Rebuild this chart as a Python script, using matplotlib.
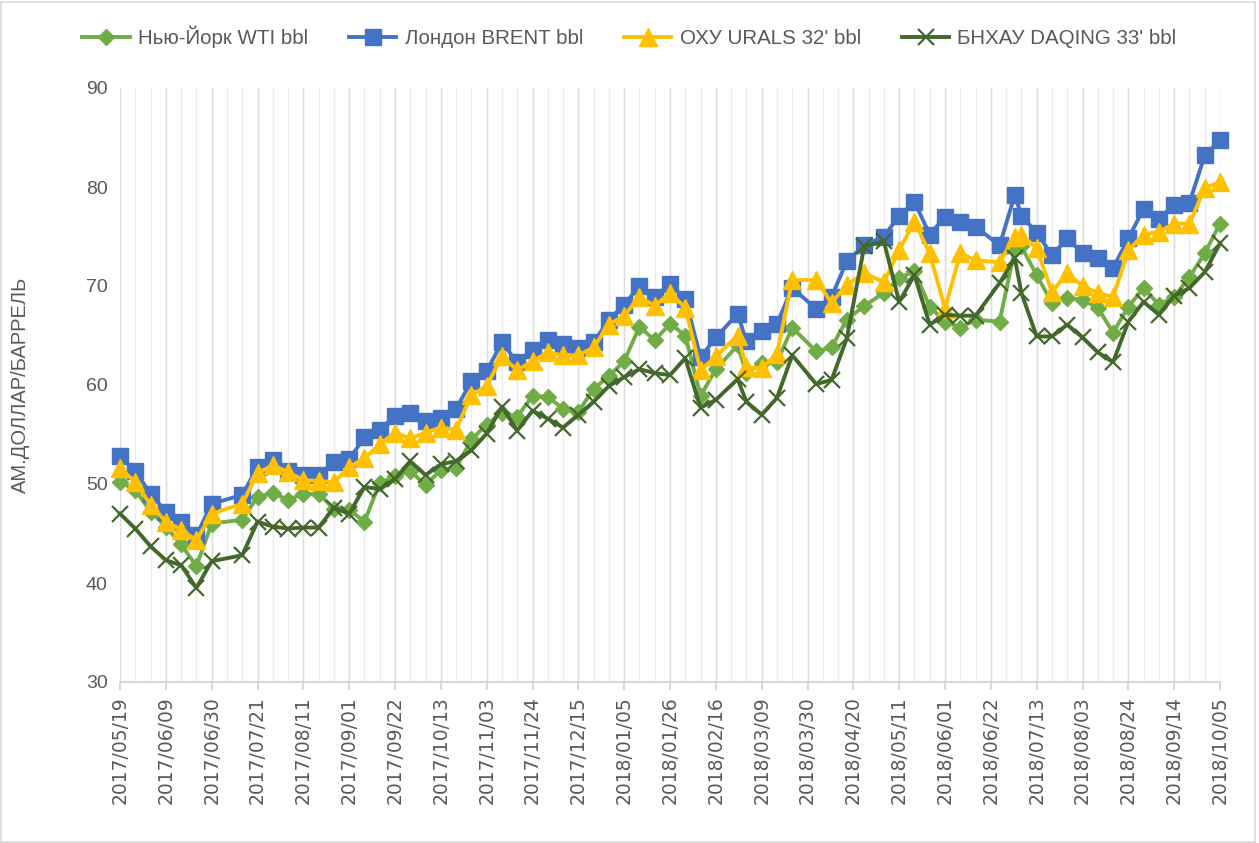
import pandas as pd
import matplotlib
matplotlib.use('Agg')
import matplotlib.pyplot as plt
import matplotlib.dates as mdates
from matplotlib.patches import Rectangle
from matplotlib.lines import Line2D

plt.rcParams['font.family'] = ['Liberation Sans', 'DejaVu Sans']

# даты наблюдений (неравномерные местами)
dates = ['2017-05-19', '2017-05-26', '2017-06-02', '2017-06-09', '2017-06-16', '2017-06-23', '2017-06-30',
         '2017-07-14', '2017-07-21', '2017-07-28', '2017-08-04', '2017-08-11', '2017-08-18', '2017-08-25',
         '2017-09-01', '2017-09-08', '2017-09-15', '2017-09-22', '2017-09-29', '2017-10-06', '2017-10-13',
         '2017-10-20', '2017-10-27', '2017-11-03', '2017-11-10', '2017-11-17', '2017-11-24', '2017-12-01',
         '2017-12-08', '2017-12-15', '2017-12-22', '2017-12-29', '2018-01-05', '2018-01-12', '2018-01-19',
         '2018-01-26', '2018-02-02', '2018-02-09', '2018-02-16', '2018-02-26', '2018-03-02', '2018-03-09',
         '2018-03-16', '2018-03-23', '2018-04-03', '2018-04-10', '2018-04-17', '2018-04-25', '2018-05-04',
         '2018-05-11', '2018-05-18', '2018-05-25', '2018-06-01', '2018-06-08', '2018-06-15', '2018-06-26',
         '2018-07-03', '2018-07-06', '2018-07-13', '2018-07-20', '2018-07-27', '2018-08-03', '2018-08-10',
         '2018-08-17', '2018-08-24', '2018-08-31', '2018-09-07', '2018-09-14', '2018-09-21', '2018-09-28',
         '2018-10-05']

wti = [50.2, 49.4, 47.2, 45.7, 43.9, 41.7, 46.0,
       46.4, 48.7, 49.1, 48.4, 49.0, 49.0, 47.5,
       47.4, 46.2, 50.1, 50.8, 51.3, 49.9, 51.4,
       51.6, 54.5, 56.0, 57.2, 56.8, 58.9, 58.8,
       57.6, 57.3, 59.6, 60.9, 62.4, 65.9, 64.5,
       66.2, 65.0, 58.9, 61.6, 64.0, 61.2, 62.2,
       62.3, 65.8, 63.4, 63.8, 66.6, 68.0, 69.3,
       70.8, 71.5, 67.9, 66.4, 65.8, 66.6, 66.4,
       73.7, 74.0, 71.1, 68.3, 68.8, 68.6, 67.8,
       65.3, 67.9, 69.8, 68.1, 68.9, 70.9, 73.3, 76.3]

brent = [52.8, 51.3, 49.0, 47.2, 46.2, 44.8, 48.0,
         48.9, 51.7, 52.4, 51.3, 50.9, 50.9, 52.2,
         52.5, 54.7, 55.5, 56.9, 57.2, 56.4, 56.7,
         57.6, 60.4, 61.4, 64.3, 62.3, 63.5, 64.5,
         64.1, 63.7, 64.3, 66.6, 68.1, 70.0, 68.9,
         70.2, 68.7, 62.8, 64.8, 67.2, 64.4, 65.5,
         66.2, 69.8, 67.7, 68.9, 72.5, 74.1, 75.0,
         77.1, 78.5, 75.2, 77.0, 76.5, 76.0, 74.1,
         79.2, 77.1, 75.4, 73.1, 74.8, 73.3, 72.8,
         71.8, 74.8, 77.8, 76.8, 78.2, 78.4, 83.2, 84.7]

urals = [51.6, 50.2, 47.9, 46.2, 45.4, 44.3, 47.0,
         48.0, 51.1, 51.9, 51.2, 50.4, 50.3, 50.2,
         51.7, 52.6, 54.0, 55.2, 54.6, 55.2, 55.7,
         55.5, 59.0, 59.9, 62.9, 61.5, 62.4, 63.3,
         63.0, 63.0, 63.8, 66.1, 67.0, 68.9, 68.0,
         69.3, 67.8, 61.5, 62.9, 65.0, 61.8, 61.7,
         63.1, 70.6, 70.6, 68.3, 70.1, 71.3, 70.4,
         73.6, 76.5, 73.3, 67.7, 73.3, 72.6, 72.4,
         75.0, 75.2, 73.8, 69.4, 71.3, 70.0, 69.3,
         68.9, 73.6, 75.2, 75.5, 76.3, 76.3, 79.9, 80.5]

daqing = [47.0, 45.5, 43.7, 42.3, 41.8, 39.5, 42.2,
          42.8, 46.2, 45.7, 45.5, 45.6, 45.6, 47.6,
          47.0, 49.7, 49.5, 50.5, 52.3, 50.9, 52.0,
          52.3, 53.4, 55.1, 57.8, 55.4, 57.4, 56.6,
          55.7, 57.0, 58.3, 59.9, 60.8, 61.6, 61.2,
          61.0, 62.7, 57.7, 58.5, 60.6, 58.3, 57.0,
          58.7, 63.0, 60.1, 60.5, 64.7, 74.0, 74.5,
          68.4, 71.1, 66.1, 67.1, 67.0, 67.0, 70.3,
          72.8, 69.3, 64.9, 64.9, 66.1, 64.8, 63.3,
          62.3, 66.4, 68.4, 67.1, 69.0, 69.8, 71.4, 74.3]

labels = ['Нью-Йорк WTI bbl', 'Лондон BRENT bbl', "ОХУ URALS 32' bbl", "БНХАУ DAQING 33' bbl"]
colors = ['#70ad47', '#4472c4', '#ffc000', '#43682b']

x = pd.to_datetime(dates)
start, end = pd.Timestamp('2017-05-19'), pd.Timestamp('2018-10-05')

fig = plt.figure(figsize=(12.59, 8.43), dpi=100)
ax = fig.add_axes([120 / 1259, 1 - 682 / 843, 1100 / 1259, 594 / 843])

# недельная сетка
for d in pd.date_range(start, end, freq='7D'):
    ax.axvline(d, color='#ececec', lw=1.0, zorder=0)
for d in pd.date_range(start, end, freq='21D'):
    ax.axvline(d, color='#dddddd', lw=1.0, zorder=0)

style = dict(lw=2.8, clip_on=False)
ax.plot(x, wti, color=colors[0], marker='D', ms=7.8, zorder=3, **style)
ax.plot(x, brent, color=colors[1], marker='s', ms=11, zorder=4, **style)
ax.plot(x, urals, color=colors[2], marker='^', ms=12.5, zorder=5, **style)
ax.plot(x, daqing, color=colors[3], marker='x', ms=11, mew=1.6, zorder=6, **style)

ax.set_xlim(start, end)
ax.set_ylim(30, 90)
ax.set_yticks(range(30, 91, 10))
ax.set_xticks(pd.date_range(start, end, freq='21D'))
ax.xaxis.set_major_formatter(mdates.DateFormatter('%Y/%m/%d'))

for s in ['top', 'right', 'left']:
    ax.spines[s].set_visible(False)
ax.spines['bottom'].set_color('#d0d0d0')
ax.spines['bottom'].set_linewidth(1.2)
ax.tick_params(axis='y', length=0, pad=9, labelsize=14, labelcolor='#595959')
ax.tick_params(axis='x', length=6, width=1.2, color='#d0d0d0', pad=4, labelsize=13.5,
               labelcolor='#595959', labelrotation=90)
for t in ax.get_xticklabels():
    t.set_family('DejaVu Sans')

ax.set_ylabel('АМ.ДОЛЛАР/БАРРЕЛЬ', fontsize=14.5, color='#595959')
ax.yaxis.set_label_coords(-0.082, 0.5)

handles = [
    Line2D([], [], color=colors[0], lw=2.8, marker='D', ms=7.8),
    Line2D([], [], color=colors[1], lw=2.8, marker='s', ms=11),
    Line2D([], [], color=colors[2], lw=2.8, marker='^', ms=12.5),
    Line2D([], [], color=colors[3], lw=2.8, marker='x', ms=11, mew=1.6),
]
fig.legend(handles, labels, loc='center', bbox_to_anchor=(0.5, 1 - 37 / 843), ncol=4, frameon=False,
           fontsize=14.8, handlelength=2.3, columnspacing=2.0, handletextpad=0.4,
           labelcolor='#595959')

fig.patches.append(Rectangle((0.001, 0.001), 0.996, 0.997, transform=fig.transFigure,
                             fill=False, edgecolor='#d9d9d9', lw=1.2))

fig.savefig('out.png', dpi=100, facecolor='white')
